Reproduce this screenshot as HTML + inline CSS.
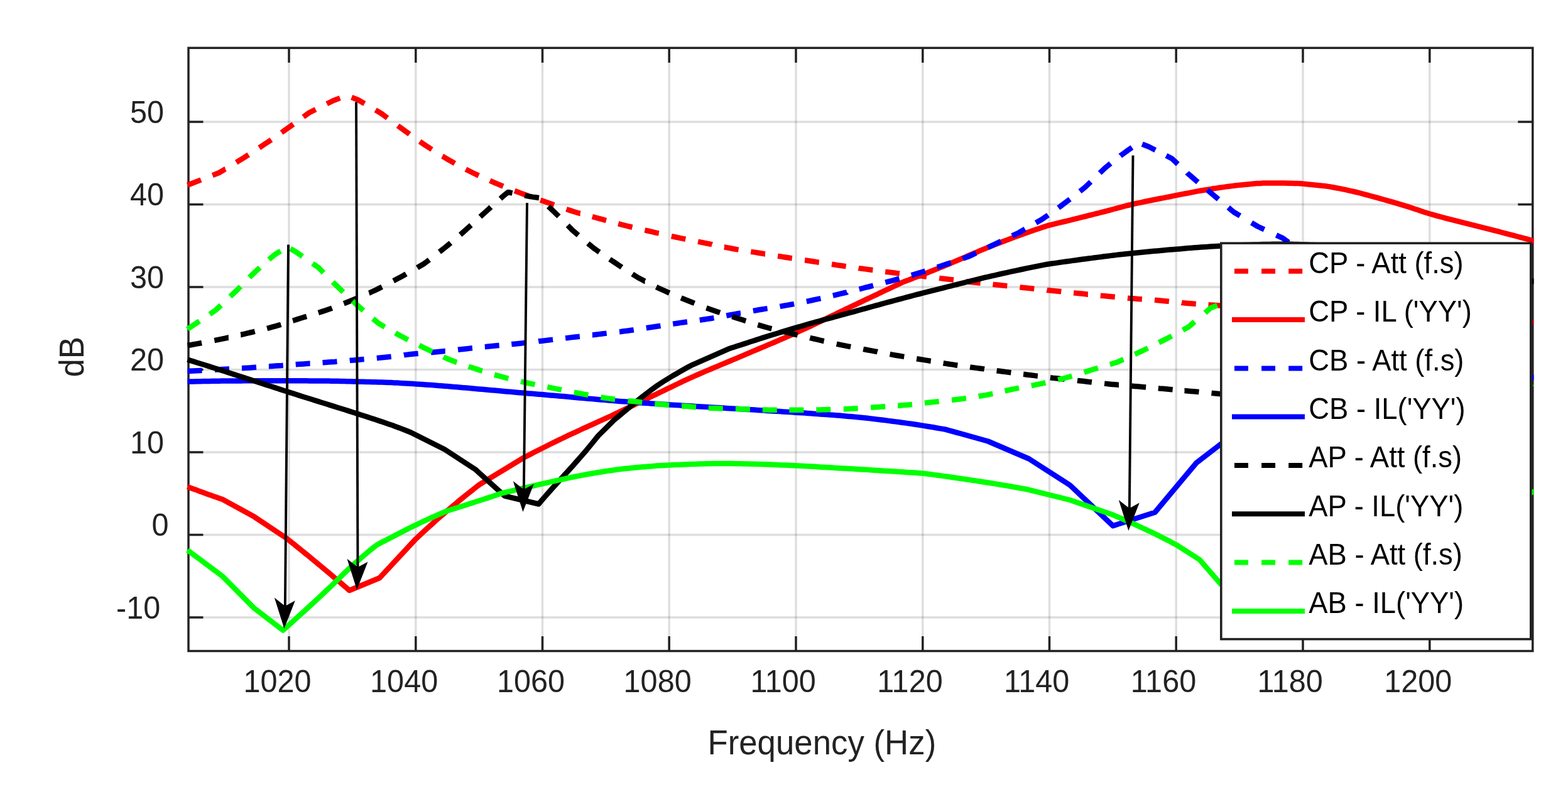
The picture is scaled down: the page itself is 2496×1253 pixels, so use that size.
<!DOCTYPE html>
<html lang="en"><head><meta charset="utf-8"><title>Attenuation and insertion loss versus frequency</title>
<style>html,body{margin:0;padding:0;background:#fff;}body{width:2496px;height:1253px;overflow:hidden;}svg{display:block;}text{font-family:"Liberation Sans",Arial,Helvetica,sans-serif;}.tk{font-size:48.6px;fill:#222222;}.lb{font-size:52.8px;fill:#222222;}.lg{font-size:45.4px;fill:#000;}.c{fill:none;stroke-width:8.5;stroke-linejoin:round;stroke-linecap:butt;}.g{stroke:#222222;stroke-opacity:0.15;stroke-width:3.4;}.ax{stroke:#222222;stroke-width:3.5;fill:none;}</style></head><body>
<svg xmlns="http://www.w3.org/2000/svg" width="2496" height="1253" viewBox="0 0 2496 1253">
<rect width="2496" height="1253" fill="#fff"/>
<defs><clipPath id="cp"><rect x="296" y="76.3" width="2145.5" height="960.2"/></clipPath></defs>
<g class="g">
<line x1="460" y1="76.3" x2="460" y2="1036.5"/>
<line x1="661.8" y1="76.3" x2="661.8" y2="1036.5"/>
<line x1="863.5" y1="76.3" x2="863.5" y2="1036.5"/>
<line x1="1065.2" y1="76.3" x2="1065.2" y2="1036.5"/>
<line x1="1267" y1="76.3" x2="1267" y2="1036.5"/>
<line x1="1468.8" y1="76.3" x2="1468.8" y2="1036.5"/>
<line x1="1670.5" y1="76.3" x2="1670.5" y2="1036.5"/>
<line x1="1872.2" y1="76.3" x2="1872.2" y2="1036.5"/>
<line x1="2074" y1="76.3" x2="2074" y2="1036.5"/>
<line x1="2275.8" y1="76.3" x2="2275.8" y2="1036.5"/>
<line x1="300" y1="194" x2="2439.8" y2="194"/>
<line x1="300" y1="325.5" x2="2439.8" y2="325.5"/>
<line x1="300" y1="457" x2="2439.8" y2="457"/>
<line x1="300" y1="588.5" x2="2439.8" y2="588.5"/>
<line x1="300" y1="720" x2="2439.8" y2="720"/>
<line x1="300" y1="851.5" x2="2439.8" y2="851.5"/>
<line x1="300" y1="983" x2="2439.8" y2="983"/>
</g>
<g class="ax">
<rect x="300" y="76.3" width="2139.8" height="960.2"/>
<line x1="460" y1="1036.5" x2="460" y2="1013"/>
<line x1="460" y1="76.3" x2="460" y2="99.8"/>
<line x1="661.8" y1="1036.5" x2="661.8" y2="1013"/>
<line x1="661.8" y1="76.3" x2="661.8" y2="99.8"/>
<line x1="863.5" y1="1036.5" x2="863.5" y2="1013"/>
<line x1="863.5" y1="76.3" x2="863.5" y2="99.8"/>
<line x1="1065.2" y1="1036.5" x2="1065.2" y2="1013"/>
<line x1="1065.2" y1="76.3" x2="1065.2" y2="99.8"/>
<line x1="1267" y1="1036.5" x2="1267" y2="1013"/>
<line x1="1267" y1="76.3" x2="1267" y2="99.8"/>
<line x1="1468.8" y1="1036.5" x2="1468.8" y2="1013"/>
<line x1="1468.8" y1="76.3" x2="1468.8" y2="99.8"/>
<line x1="1670.5" y1="1036.5" x2="1670.5" y2="1013"/>
<line x1="1670.5" y1="76.3" x2="1670.5" y2="99.8"/>
<line x1="1872.2" y1="1036.5" x2="1872.2" y2="1013"/>
<line x1="1872.2" y1="76.3" x2="1872.2" y2="99.8"/>
<line x1="2074" y1="1036.5" x2="2074" y2="1013"/>
<line x1="2074" y1="76.3" x2="2074" y2="99.8"/>
<line x1="2275.8" y1="1036.5" x2="2275.8" y2="1013"/>
<line x1="2275.8" y1="76.3" x2="2275.8" y2="99.8"/>
<line x1="300" y1="194" x2="323.5" y2="194"/>
<line x1="2439.8" y1="194" x2="2416.3" y2="194"/>
<line x1="300" y1="325.5" x2="323.5" y2="325.5"/>
<line x1="2439.8" y1="325.5" x2="2416.3" y2="325.5"/>
<line x1="300" y1="457" x2="323.5" y2="457"/>
<line x1="2439.8" y1="457" x2="2416.3" y2="457"/>
<line x1="300" y1="588.5" x2="323.5" y2="588.5"/>
<line x1="2439.8" y1="588.5" x2="2416.3" y2="588.5"/>
<line x1="300" y1="720" x2="323.5" y2="720"/>
<line x1="2439.8" y1="720" x2="2416.3" y2="720"/>
<line x1="300" y1="851.5" x2="323.5" y2="851.5"/>
<line x1="2439.8" y1="851.5" x2="2416.3" y2="851.5"/>
<line x1="300" y1="983" x2="323.5" y2="983"/>
<line x1="2439.8" y1="983" x2="2416.3" y2="983"/>
</g>
<g clip-path="url(#cp)">
<path class="c" stroke="#ff0000" d="M298.5 294.8 L319.9 286.4 M338.3 279.1 L348.8 275 L353.7 272.1 L358.6 269.2 L358.9 269.1 M376.2 258.6 L378.4 257.2 L383.3 254.2 L388.3 251.1 L393.2 247.9 L395.7 246.3 M412.7 235.3 L413 235.1 L417.9 231.8 L422.8 228.5 L427.8 225.2 L431.8 222.4 M448.1 211.1 L452.5 208 L457.4 204.6 L462.4 201 L466.9 197.8 M482.9 186.2 L487.1 183.1 L492 179.5 L502.5 174.2 M520.3 165.3 L531 160 L541.3 156.1 M559.7 155 L570 159 L580.3 165 M597.7 175.2 L607.5 181 L612.3 184.6 L616.8 187.9 M633.3 200.1 L636.5 202.5 L641.4 206 L646.2 209.5 L651.1 213 L651.9 213.6 M668.2 225.3 L670.4 226.8 L675.3 230.1 L680.1 233.3 L685 236.5 L687.4 238 M704.1 248.6 L704.3 248.7 L709.2 251.6 L714 254.5 L719 257.3 L724 260.1 M741.4 269.4 L743.9 270.7 L748.9 273.2 L753.9 275.7 L758.9 278.1 L762.1 279.6 M779.9 287.7 L783.8 289.4 L788.8 291.6 L793.8 293.7 L798.8 295.7 L801 296.6 M819.2 303.8 L823.7 305.5 L828.7 307.4 L833.7 309.2 L838.7 311 L840.8 311.8 M860.3 318.6 L863.7 319.8 L868.6 321.5 L873.6 323.2 L878.6 325 L882 326.2 M901.6 333.1 L903.6 333.8 L908.6 335.4 L913.5 337 L918.5 338.5 L923.5 339.9 L923.6 339.9 M942.8 345 L943.5 345.2 L948.5 346.5 L953.4 347.9 L958.4 349.2 L963.4 350.6 L965 351 M984.2 356.2 L988.4 357.3 L993.4 358.6 L998.3 359.8 L1003.3 361 L1006.5 361.8 M1026.4 366.4 L1028.3 366.8 L1033.3 368 L1038.3 369.1 L1043.2 370.3 L1048.2 371.4 L1048.8 371.5 M1068.8 376.1 L1073.2 377 L1078.2 378.1 L1083.1 379.2 L1088.1 380.2 L1091.3 380.8 M1111.1 384.7 L1113.1 385.1 L1118.1 386.1 L1123.1 387.1 L1128 388.1 L1133 389.1 L1133.6 389.3 M1152.9 393.4 L1153 393.4 L1158 394.4 L1163 395.3 L1168 396.2 L1172.9 397.1 L1175.6 397.5 M1195.3 400.7 L1197.9 401.1 L1202.9 401.9 L1207.9 402.7 L1212.9 403.5 L1217.8 404.4 L1218 404.4 M1238.1 407.7 L1242.8 408.4 L1247.8 409.2 L1252.8 410 L1257.7 410.8 L1260.8 411.2 M1281.1 414.3 L1282.7 414.5 L1287.7 415.3 L1292.7 416 L1297.7 416.8 L1302.6 417.6 L1303.8 417.7 M1324 420.8 L1327.6 421.3 L1332.6 422.1 L1337.6 422.8 L1342.6 423.5 L1346.7 424.1 M1366.6 426.9 L1367.5 427.1 L1372.5 427.8 L1377.5 428.4 L1382.5 429.1 L1387.4 429.8 L1389.4 430 M1409.2 432.6 L1412.4 433 L1417.4 433.6 L1422.4 434.2 L1427.4 434.9 L1432 435.4 M1452.1 437.9 L1452.3 437.9 L1457.3 438.5 L1462.3 439.1 L1467.3 439.6 L1472.3 440.2 L1475 440.5 M1495.2 442.8 L1497.2 443.1 L1502.2 443.7 L1507.2 444.3 L1512.2 444.9 L1517.1 445.5 L1518 445.6 M1537.8 448.1 L1542.1 448.7 L1547.1 449.2 L1552.1 449.8 L1557.1 450.4 L1560.7 450.8 M1580.5 452.8 L1582 453 L1587 453.5 L1592 454 L1597 454.6 L1602 455.1 L1603.3 455.2 M1623.4 457.4 L1626.9 457.8 L1631.9 458.3 L1636.9 458.8 L1641.9 459.3 L1646.3 459.8 M1666.4 461.8 L1666.8 461.9 L1671.8 462.4 L1676.8 462.9 L1681.8 463.4 L1686.8 463.9 L1689.3 464.2 M1709.1 466.3 L1711.7 466.6 L1716.7 467.1 L1721.7 467.6 L1726.7 468.1 L1731.7 468.7 L1731.9 468.7 M1751.8 470.7 L1756.6 471.1 L1761.6 471.6 L1766.6 472.1 L1771.6 472.5 L1774.8 472.8 M1795 474.5 L1796.5 474.7 L1801.5 475.1 L1806.5 475.5 L1811.5 475.9 L1816.5 476.3 L1817.9 476.4 M1838 477.8 L1841.4 478.1 L1846.4 478.5 L1851.4 478.9 L1856.4 479.4 L1860.9 479.9 M1880.9 481.9 L1881.3 482 L1886.3 482.4 L1891.3 482.9 L1896.3 483.3 L1901.3 483.7 L1903.8 483.9 M1923.5 485.2 L1926.2 485.4 L1931.2 485.7 L1936.2 486.1 L1941.2 486.4 L1946.2 486.8 L1946.5 486.8 M1966.5 488.2 L1971.1 488.5 L1976.1 488.9 L1981.1 489.2 L1986.1 489.5 L1989.5 489.8 M2009.5 491.2 L2011 491.3 L2016 491.6 L2021 492 L2026 492.3 L2031 492.6 L2032.5 492.7 M2052.5 494.1 L2055.9 494.3 L2060.9 494.6 L2065.9 494.9 L2070.9 495.3 L2075.5 495.5 M2095.5 496.7 L2095.8 496.8 L2100.8 497 L2105.8 497.3 L2110.8 497.6 L2115.8 497.9 L2118.5 498 M2138.6 499.1 L2140.7 499.3 L2145.7 499.5 L2150.7 499.8 L2155.7 500.1 L2160.7 500.3 L2161.5 500.4 M2181.6 501.4 L2185.6 501.6 L2190.6 501.9 L2195.6 502.1 L2200.6 502.4 L2204.6 502.6 M2224.7 503.5 L2225.5 503.6 L2230.5 503.8 L2235.5 504.1 L2240.5 504.3 L2245.5 504.5 L2247.6 504.6 M2267.7 505.6 L2270.4 505.7 L2275.4 505.9 L2280.4 506.1 L2285.4 506.4 L2290.4 506.6 L2290.7 506.6 M2310.8 507.5 L2315.3 507.7 L2320.3 507.9 L2325.3 508.1 L2330.3 508.3 L2333.7 508.5 M2353.8 509.3 L2355.2 509.4 L2360.2 509.6 L2365.2 509.8 L2370.2 510 L2375.2 510.2 L2376.8 510.3 M2396.9 511.1 L2400.1 511.2 L2405.1 511.4 L2410.1 511.6 L2415.1 511.8 L2419.9 511.9 M2440 512.7 L2440 512.7 L2445 512.8 L2450 513"/>
<polyline class="c" stroke="#ff0000" points="298.5,774.9 303.1,776.7 307.8,778.4 312.4,780.1 317,781.9 321.7,783.6 326.3,785.2 330.9,786.9 335.6,788.6 340.2,790.2 344.8,791.8 349.5,793.4 354.1,795 404.5,822.6 455,856.2 459.8,860 464.6,863.9 469.5,867.7 474.3,871.6 479.1,875.5 483.9,879.4 488.8,883.3 493.6,887.3 498.4,891.2 503.2,895.2 508,899.2 512.9,903.2 517.7,907.2 522.5,911.3 527.3,915.3 532.1,919.4 537,923.5 541.8,927.6 546.6,931.7 551.4,935.8 556.2,940 604,920.3 661.5,858.5 666.4,853.9 671.3,849.4 676.1,844.9 681,840.4 685.9,836 690.8,831.6 695.7,827.2 700.5,822.9 705.4,818.7 710.3,814.5 715.2,810.4 720.1,806.3 725,802.2 729.8,798.1 734.7,794.1 739.6,790.2 744.5,786.2 749.4,782.4 754.2,778.5 759.1,774.7 764,771 834,728.5 839,725.9 844,723.4 848.9,720.8 853.9,718.3 858.9,715.7 863.9,713.2 868.9,710.7 873.8,708.3 878.8,705.8 883.8,703.4 888.8,700.9 893.8,698.5 898.8,696.1 903.7,693.7 908.7,691.4 913.7,689.1 918.7,686.8 923.7,684.5 928.6,682.2 933.6,680 938.6,677.7 943.6,675.5 948.6,673.2 953.5,670.9 958.5,668.7 963.5,666.4 968.5,664.1 973.5,661.8 978.4,659.4 983.4,657 988.4,654.7 993.4,652.3 998.4,649.9 1003.4,647.5 1008.3,645.1 1013.3,642.7 1018.3,640.3 1023.3,637.9 1028.3,635.5 1033.2,633.1 1038.2,630.7 1043.2,628.3 1048.2,625.9 1053.2,623.5 1058.1,621.1 1063.1,618.7 1068.1,616.3 1073.1,613.9 1078.1,611.5 1083,609.1 1088,606.7 1093,604.4 1098,602.1 1103,599.9 1108,597.7 1112.9,595.5 1117.9,593.3 1122.9,591.2 1127.9,589.1 1132.9,587 1137.8,584.9 1142.8,582.8 1147.8,580.7 1152.8,578.6 1157.8,576.5 1162.7,574.5 1167.7,572.4 1172.7,570.3 1177.7,568.2 1182.7,566.1 1187.7,563.9 1192.6,561.8 1197.6,559.7 1202.6,557.6 1207.6,555.5 1212.6,553.4 1217.5,551.3 1222.5,549.2 1227.5,547.1 1232.5,545 1237.5,542.9 1242.4,540.7 1247.4,538.6 1252.4,536.4 1257.4,534.2 1262.4,532 1267.3,529.8 1272.3,527.5 1277.3,525.2 1282.3,522.9 1287.3,520.6 1292.3,518.3 1297.2,515.9 1302.2,513.5 1307.2,511.1 1312.2,508.7 1317.2,506.3 1322.1,503.9 1327.1,501.5 1332.1,499.1 1337.1,496.7 1342.1,494.3 1347,491.9 1352,489.5 1357,487.2 1362,484.8 1367,482.4 1371.9,480.1 1376.9,477.7 1381.9,475.3 1386.9,473 1391.9,470.6 1396.9,468.3 1401.8,465.9 1406.8,463.5 1411.8,461.2 1416.8,458.8 1421.8,456.5 1426.7,454.1 1431.7,451.8 1436.7,449.4 1441.6,447.5 1446.6,445.7 1451.5,443.8 1456.4,441.9 1461.3,440 1466.3,438.1 1471.2,436.2 1476.1,434.2 1481.1,432.3 1486,430.3 1490.9,428.4 1495.9,426.4 1500.8,424.4 1505.7,422.4 1510.6,420.3 1515.6,418.2 1520.5,416.1 1525.4,414 1530.4,411.9 1535.3,409.8 1540.2,407.6 1545.2,405.5 1550.1,403.4 1555,401.3 1559.9,399.2 1564.9,397.1 1569.8,395.1 1574.7,393.1 1579.7,391.1 1584.6,389.1 1589.5,387.2 1594.5,385.3 1599.4,383.5 1604.3,381.6 1609.2,379.8 1614.2,377.9 1619.1,376.1 1624,374.3 1629,372.5 1633.9,370.8 1638.8,369 1643.8,367.3 1648.7,365.6 1653.6,363.9 1658.5,362.2 1663.5,360.6 1668.4,359 1673.4,357.8 1678.3,356.6 1683.3,355.4 1688.2,354.2 1693.2,353 1698.2,351.8 1703.1,350.6 1708.1,349.4 1713.1,348.1 1718,346.9 1723,345.7 1727.9,344.5 1732.9,343.2 1737.9,342 1742.8,340.7 1747.8,339.5 1752.7,338.2 1757.7,337 1762.7,335.7 1767.6,334.3 1772.6,333 1777.6,331.6 1782.5,330.3 1787.5,329 1792.4,327.7 1797.4,326.5 1802.4,325.3 1807.3,324.2 1812.3,323.1 1817.3,322.1 1822.2,321 1827.2,320 1832.1,319 1837.1,318 1842.1,317 1847,316 1852,315.1 1856.9,314.1 1861.9,313.2 1866.9,312.2 1871.8,311.2 1876.8,310.2 1881.8,309.2 1886.7,308.3 1891.7,307.3 1896.6,306.3 1901.6,305.3 1906.6,304.4 1911.5,303.5 1916.5,302.7 1921.4,301.9 1926.4,301.1 1931.4,300.3 1936.3,299.6 1941.3,298.8 1946.3,298.1 1951.2,297.4 1956.2,296.8 1961.1,296.1 1966.1,295.5 1971.1,294.9 1976,294.4 1981,293.9 1986,293.4 1990.9,292.9 1995.9,292.5 2000.8,292.1 2005.8,291.9 2010.8,291.6 2015.7,291.5 2020.7,291.4 2025.6,291.4 2030.6,291.4 2035.6,291.5 2040.5,291.5 2045.5,291.6 2050.5,291.7 2055.4,291.8 2060.4,292 2065.3,292.1 2070.3,292.3 2112.4,296.6 2117.4,297.4 2122.3,298.3 2127.3,299.2 2132.3,300.1 2137.2,301.2 2142.2,302.2 2147.2,303.3 2152.1,304.4 2157.1,305.5 2162,306.7 2167,308 2172,309.3 2176.9,310.6 2181.9,312 2186.9,313.3 2191.8,314.7 2196.8,316.1 2201.8,317.5 2206.7,318.9 2211.7,320.3 2216.7,321.7 2221.6,323.1 2226.6,324.6 2231.6,326.1 2236.5,327.6 2241.5,329.1 2246.4,330.7 2251.4,332.4 2256.4,334 2261.3,335.7 2266.3,337.4 2271.3,339 2276.2,340.5 2281.2,341.9 2286.2,343.3 2291.1,344.7 2296.1,346 2301.1,347.3 2306,348.6 2311,349.9 2316,351.2 2320.9,352.4 2325.9,353.7 2330.8,354.9 2335.8,356.2 2340.8,357.4 2345.7,358.6 2350.7,359.9 2355.7,361.1 2360.6,362.3 2365.6,363.6 2370.6,364.9 2375.5,366.1 2380.5,367.4 2385.5,368.7 2390.4,370 2395.4,371.3 2400.4,372.6 2405.3,373.9 2410.3,375.2 2415.2,376.5 2420.2,377.8 2425.2,379.1 2430.1,380.4 2435.1,381.8 2440.1,383.1 2445,384.4 2450,385.7"/>
<path class="c" stroke="#0000ff" d="M298.5 591.1 L303.5 590.8 L308.5 590.5 L313.5 590.3 L318.5 590 L321.5 589.8 M341.9 588.7 L343.5 588.6 L348.5 588.3 L353.5 588 L358.5 587.7 L363.5 587.4 L364.9 587.4 M385 586.2 L388.5 586 L393.5 585.7 L398.5 585.4 L403.5 585 L408 584.7 M427.9 583.3 L428.4 583.3 L433.4 582.9 L438.4 582.6 L443.4 582.2 L448.4 581.9 L450.8 581.7 M470.7 580.3 L473.4 580.1 L478.4 579.8 L483.4 579.4 L488.4 579.1 L493.4 578.7 L493.6 578.7 M513.5 577.3 L518.4 577 L523.4 576.6 L528.4 576.2 L533.4 575.9 L536.5 575.6 M556.7 574 L558.4 573.8 L563.4 573.4 L568.4 573 L573.4 572.5 L578.4 572.1 L579.6 572 M599.8 570.2 L603.4 569.8 L608.4 569.3 L613.4 568.8 L618.4 568.2 L622.7 567.7 M642.9 565.3 L643.4 565.2 L648.4 564.6 L653.4 564.1 L658.4 563.6 L663.4 563.1 L665.7 562.9 M685.9 561.1 L688.3 560.9 L693.3 560.4 L698.3 559.9 L703.3 559.4 L708.3 558.9 L708.8 558.9 M729 556.7 L733.3 556.2 L738.3 555.7 L743.3 555.2 L748.3 554.6 L751.9 554.3 M771.8 552.2 L773.3 552.1 L778.3 551.6 L783.3 551.1 L788.3 550.6 L793.3 550.1 L794.7 550 M814.3 548.1 L818.3 547.7 L823.3 547.2 L828.3 546.7 L833.3 546.1 L837.2 545.7 M857.2 543.4 L858.3 543.2 L863.3 542.7 L868.3 542.1 L873.3 541.5 L878.3 540.9 L880.1 540.7 M900.1 538.3 L903.3 538 L908.3 537.4 L913.3 536.8 L918.3 536.2 L922.9 535.7 M942.9 533.3 L943.2 533.3 L948.2 532.7 L953.2 532.1 L958.2 531.5 L963.2 530.9 L965.7 530.6 M986 528.2 L988.2 528 L993.2 527.3 L998.2 526.7 L1003.2 526 L1008.2 525.3 L1008.8 525.2 M1028.8 522.2 L1033.2 521.5 L1038.2 520.8 L1043.2 520 L1048.2 519.3 L1051.5 518.8 M1071.2 515.7 L1073.2 515.4 L1078.2 514.7 L1083.2 513.9 L1088.2 513.2 L1093.2 512.5 L1094 512.4 M1113.8 509.7 L1118.2 509 L1123.2 508.3 L1128.2 507.5 L1133.2 506.7 L1136.5 506.1 M1156.3 502.6 L1158.2 502.2 L1163.2 501.3 L1168.2 500.4 L1173.1 499.5 L1178.1 498.6 L1179 498.5 M1198.9 494.9 L1203.1 494.2 L1208.1 493.3 L1213.1 492.5 L1218.1 491.6 L1221.6 491.1 M1241.5 487.9 L1243.1 487.6 L1248.1 486.8 L1253.1 485.9 L1258.1 485 L1263.1 484.1 L1264.1 483.9 M1283.9 480 L1288.1 479.1 L1293.1 478 L1298.1 476.9 L1303.1 475.8 L1306.4 475.1 M1325.9 470.6 L1328.1 470.1 L1333.1 468.9 L1338.1 467.7 L1343.1 466.5 L1348.1 465.3 L1348.2 465.2 M1367.7 460.4 L1368.1 460.3 L1373.1 459 L1378.1 457.7 L1383.1 456.5 L1388.1 455.2 L1390 454.7 M1409.4 449.7 L1413.1 448.7 L1418.1 447.4 L1423 446.1 L1428 444.7 L1431.6 443.7 M1450.8 438.2 L1453 437.6 L1458 436.1 L1463 434.6 L1468 433.1 L1472.8 431.6 M1491.8 425.4 L1493 425.1 L1498 423.4 L1503 421.7 L1508 420.1 L1513 418.4 L1513.7 418.2 M1532.6 411.7 L1533 411.5 L1538 409.8 L1543 408 L1547.9 405.7 L1552.8 403.3 L1553.8 402.9 M1572.3 394.1 L1572.5 394 L1577.5 391.6 L1582.4 389.3 L1587.3 387 L1592.2 384.6 L1593.1 384.2 M1611.4 375.5 L1611.9 375.2 L1616.8 372.9 L1621.8 370.5 L1631.7 364.7 M1649 354.7 L1659 349 L1663.9 345.6 L1668.5 342.5 M1684.8 330.8 L1688.6 328 L1693.5 324.4 L1698.4 320.7 L1703.2 317.1 M1719 304.7 L1723.1 301.5 L1728 297.5 L1736.3 289.5 M1750.7 275.5 L1759 267.5 L1763.9 263.5 L1767.9 260.2 M1783.4 248.1 L1783.5 248 L1788.5 244.3 L1793.4 240.7 L1798.3 237.2 L1802 234.7 M1818.2 229.5 L1829 233.8 L1839.2 239 M1856.4 247.8 L1865.5 252.5 L1870.5 257.2 L1874.8 261.3 M1889.6 274.9 L1890.2 275.6 L1895.2 280 L1900.2 284.3 L1905.1 288.6 L1906.9 290.1 M1921.9 302.5 L1924.9 304.9 L1929.8 309 L1934.8 313.2 L1939.6 317.2 M1955.3 330.3 L1959.5 333.9 L1964.5 338 L1974 343.7 M1992.2 354.6 L2002 360.5 L2012.5 365.4 M2031.6 374.4 L2042 379.2 L2051.4 385.9 M2067.9 397.4 L2086.7 410.6 M2103.3 422 L2123 433.8 M2140.2 444.1 L2160 456 M2177.2 466.3 L2196.9 478.1 M2214.8 487.4 L2235.3 497.7 M2253.3 506.7 L2273.9 516.9 M2291.9 525.9 L2300 530 L2313.4 533.7 M2332.7 539.2 L2354.9 545.4 M2374.2 550.8 L2396.4 557 M2415.7 562.4 L2437.9 568.6"/>
<polyline class="c" stroke="#0000ff" points="298.5,607.5 303.5,607.5 308.5,607.4 313.5,607.3 318.5,607.2 323.4,607.1 328.4,607 333.4,606.9 338.4,606.8 343.4,606.7 348.4,606.7 353.4,606.6 358.4,606.6 363.3,606.5 368.3,606.5 373.3,606.4 378.3,606.4 383.3,606.4 388.3,606.3 393.3,606.3 398.3,606.3 403.2,606.3 408.2,606.2 413.2,606.2 418.2,606.2 423.2,606.2 428.2,606.2 433.2,606.2 438.2,606.2 443.1,606.2 448.1,606.2 453.1,606.2 458.1,606.2 463.1,606.2 468.1,606.2 473.1,606.2 478.1,606.3 483,606.3 488,606.3 493,606.4 498,606.4 503,606.4 508,606.5 513,606.5 518,606.6 522.9,606.6 527.9,606.7 532.9,606.7 537.9,606.8 542.9,607 547.9,607.1 552.9,607.2 557.9,607.3 562.8,607.5 567.8,607.6 572.8,607.7 577.8,607.8 582.8,608 587.8,608.1 592.8,608.2 597.8,608.3 602.7,608.5 607.7,608.6 612.7,608.8 617.7,608.9 622.7,609.1 627.7,609.4 632.7,609.6 637.7,609.9 642.6,610.2 647.6,610.5 652.6,610.8 657.6,611.1 662.6,611.4 667.6,611.7 672.6,612.1 677.6,612.4 682.5,612.8 687.5,613.1 692.5,613.5 697.5,613.9 702.5,614.3 707.5,614.7 712.5,615.1 717.5,615.5 722.4,615.9 727.4,616.3 732.4,616.8 737.4,617.2 742.4,617.6 747.4,618.1 752.4,618.5 757.4,618.9 762.3,619.4 767.3,619.8 772.3,620.3 777.3,620.7 782.3,621.2 787.3,621.6 792.3,622.1 797.3,622.5 802.2,623 807.2,623.4 812.2,623.8 817.2,624.3 822.2,624.7 827.2,625.2 832.2,625.6 837.2,626 842.1,626.4 847.1,626.8 852.1,627.3 857.1,627.7 862.1,628.1 867.1,628.5 872.1,629 877.1,629.4 882,629.8 887,630.3 892,630.7 897,631.1 902,631.6 907,632 912,632.5 917,632.9 922,633.4 926.9,633.8 931.9,634.2 936.9,634.7 941.9,635.1 946.9,635.6 951.9,636 956.9,636.4 961.9,636.8 966.8,637.3 971.8,637.7 976.8,638.1 981.8,638.5 986.8,638.9 991.8,639.3 996.8,639.6 1001.8,640 1006.7,640.4 1011.7,640.7 1016.7,641.1 1021.7,641.4 1026.7,641.8 1031.7,642.1 1036.7,642.5 1041.7,642.8 1046.6,643.1 1051.6,643.4 1056.6,643.8 1061.6,644.1 1066.6,644.4 1071.6,644.7 1076.6,645 1081.6,645.3 1086.5,645.7 1091.5,646 1096.5,646.3 1101.5,646.6 1106.5,646.9 1111.5,647.2 1116.5,647.5 1121.5,647.8 1126.4,648.1 1131.4,648.4 1136.4,648.7 1141.4,649 1146.4,649.3 1151.4,649.6 1156.4,649.9 1161.4,650.2 1166.3,650.5 1171.3,650.8 1176.3,651.1 1181.3,651.4 1186.3,651.7 1191.3,652 1196.3,652.3 1201.3,652.6 1206.2,652.9 1211.2,653.3 1216.2,653.6 1221.2,653.9 1226.2,654.2 1231.2,654.5 1236.2,654.8 1241.2,655.1 1246.1,655.4 1251.1,655.7 1256.1,656 1261.1,656.3 1266.1,656.7 1271.1,657 1276.1,657.3 1281.1,657.6 1286,658 1291,658.3 1296,658.7 1301,659 1306,659.4 1311,659.7 1316,660.1 1321,660.5 1325.9,660.8 1330.9,661.2 1335.9,661.6 1340.9,662 1345.9,662.4 1350.9,662.9 1355.9,663.3 1360.9,663.8 1365.8,664.3 1370.8,664.8 1375.8,665.3 1380.8,665.8 1385.8,666.4 1390.8,667 1395.8,667.6 1400.8,668.2 1405.7,668.8 1410.7,669.4 1415.7,670.1 1420.7,670.7 1425.7,671.4 1430.7,672 1435.7,672.7 1440.7,673.4 1445.6,674.1 1450.6,674.8 1455.6,675.5 1460.6,676.3 1465.6,677.1 1470.6,677.9 1475.6,678.7 1480.6,679.5 1485.5,680.3 1490.5,681.2 1495.5,682.1 1500.5,682.9 1505.5,683.8 1572.6,702.5 1638,730.5 1703.3,772.5 1771.6,837.2 1838.5,815.7 1904.2,737.2 1942,708 2000,670 2100,630 2450,600"/>
<path class="c" stroke="#000000" d="M298.5 550 L303.5 549.2 L308.5 548.3 L313.5 547.4 L318.5 546.5 L321.1 546 M341.3 542.1 L343.4 541.7 L348.4 540.7 L353.4 539.7 L358.4 538.6 L363.4 537.5 L363.8 537.5 M383.3 533 L383.4 533 L388.4 531.8 L393.3 530.7 L398.3 529.5 L403.3 528.3 L405.7 527.7 M425.1 522.9 L428.3 522.1 L433.3 520.7 L438.3 519.3 L443.3 517.9 L447.3 516.7 M466.1 510.6 L468.2 510 L473.2 508.4 L478.2 506.8 L483.2 505.2 L488.1 503.8 M506.8 497.9 L508.1 497.5 L513.1 495.9 L518.1 494.2 L523.1 492.5 L528.1 490.7 L528.6 490.5 M547.3 483.3 L548.1 483 L553.1 481 L558.1 479 L563.1 477 L568 474.9 L568.6 474.7 M587.3 466.5 L588 466.3 L593 464 L598 461.8 L602.8 459.4 L607.5 457 L608.1 456.7 M626.3 447.2 L626.5 447.1 L631.2 444.6 L636 442 L640.8 439.4 L645.5 436.8 L646.5 436.2 M664.2 426.2 L664.5 426 L669.2 423.3 L674 420.5 L679 416.9 L683.3 413.6 M699.5 401.2 L703.9 397.7 L708.9 393.7 L713.9 389.6 L717.4 386.7 M732.7 373.7 L733.9 372.7 L738.9 368.3 L743.8 363.9 L748.8 359.4 L749.9 358.5 M764.4 345.1 L768.8 341.1 L773.8 336.6 L778.8 332.1 L781.4 329.6 M796.5 316.3 L798.7 314.3 L803.7 310.1 L808.7 306 L813.6 307 L815.6 307.4 M835.3 311.3 L838.3 311.9 L843.2 312.7 L848.1 313.6 L853.1 314.3 L858 315 M872.9 328.6 L877.5 332.9 L882.3 337.5 L887.2 342.3 L889.5 344.6 M903.7 358.8 L906.6 361.7 L911.5 366.8 L920.6 374.4 M935.9 387.4 L945 395 L949.8 398.4 L954.1 401.4 M970.6 412.7 L973.6 414.7 L978.4 417.9 L983.1 421.1 L987.9 424.2 L989.8 425.5 M1006.7 436.3 L1007 436.5 L1011.7 439.5 L1016.5 442.5 L1021.5 445.1 L1026.5 447.8 L1026.6 447.8 M1044.7 456.9 L1046.5 457.8 L1051.5 460.1 L1056.5 462.4 L1061.5 464.7 L1065.6 466.5 M1084.2 474.4 L1086.4 475.3 L1091.4 477.3 L1096.4 479.3 L1101.4 481.3 L1105.5 482.9 M1124.4 490.2 L1126.4 490.9 L1131.4 492.7 L1136.4 494.5 L1141.4 496.2 L1146.1 497.8 M1165.4 504 L1166.3 504.3 L1171.3 505.9 L1176.3 507.4 L1181.3 509.1 L1186.3 510.7 L1187.3 511 M1206.3 517.1 L1206.3 517.1 L1211.3 518.6 L1216.3 520.1 L1221.3 521.5 L1226.3 522.8 L1228.4 523.3 M1247.3 528 L1251.3 528.9 L1256.2 530.1 L1261.2 531.3 L1266.2 532.5 L1269.7 533.3 M1289.3 537.9 L1291.2 538.4 L1296.2 539.5 L1301.2 540.7 L1306.2 541.8 L1311.2 543 L1311.7 543.1 M1331.7 547.6 L1336.2 548.6 L1341.2 549.6 L1346.2 550.6 L1351.1 551.6 L1354.2 552.2 M1374.2 555.9 L1376.1 556.3 L1381.1 557.2 L1386.1 558.1 L1391.1 559.1 L1396.1 560 L1396.8 560.2 M1416.6 563.9 L1421.1 564.8 L1426.1 565.7 L1431.1 566.5 L1436.1 567.4 L1439.3 567.9 M1459.1 571.2 L1461 571.5 L1466 572.3 L1471 573.1 L1476 573.9 L1481 574.8 L1481.8 574.9 M1501.6 578.2 L1506 578.9 L1511 579.7 L1516 580.4 L1521 581.2 L1524.3 581.7 M1544.1 584.4 L1545.9 584.7 L1550.9 585.4 L1555.9 586.1 L1560.9 586.7 L1565.9 587.4 L1566.9 587.6 M1586.6 590.2 L1590.9 590.8 L1595.9 591.5 L1600.9 592.1 L1605.9 592.8 L1609.4 593.2 M1629.1 595.8 L1630.9 596 L1635.9 596.7 L1640.8 597.3 L1645.8 597.9 L1650.8 598.6 L1651.9 598.7 M1671.9 601.2 L1675.8 601.7 L1680.8 602.2 L1685.8 602.8 L1690.8 603.4 L1694.7 603.8 M1715 606 L1715.8 606.1 L1720.8 606.6 L1725.8 607.1 L1730.8 607.7 L1735.7 608.2 L1737.9 608.5 M1758.1 610.6 L1760.7 610.9 L1765.7 611.4 L1770.7 611.9 L1775.7 612.3 L1780.7 612.8 L1781 612.8 M1801.2 614.5 L1805.7 614.9 L1810.7 615.3 L1815.7 615.7 L1820.7 616.2 L1824.1 616.5 M1843.8 618.2 L1845.6 618.4 L1850.6 618.8 L1855.6 619.3 L1860.6 619.7 L1865.6 620.2 L1866.7 620.3 M1885.5 622 L1885.6 622 L1890.6 622.4 L1895.6 622.9 L1900.6 623.3 L1905.6 623.8 L1908.5 624.1 M1928.5 625.9 L1930.5 626.1 L1935.5 626.5 L1940.5 626.9 L1945.5 627.3 L1950.5 627.6 L1951.4 627.7 M1971.4 629.2 L1975.5 629.5 L1980.5 629.9 L1985.5 630.3 L1990.5 630.6 L1994.4 630.9 M2014.4 632.4 L2015.5 632.5 L2020.4 632.9 L2025.4 633.2 L2030.4 633.6 L2035.4 634 L2037.4 634.1 M2057.4 635.6 L2060.4 635.8 L2065.4 636.1 L2070.4 636.5 L2075.4 636.9 L2080.3 637.2 M2100.4 638.6 L2105.4 639 L2110.4 639.3 L2115.4 639.7 L2120.3 640 L2123.3 640.3 M2143.4 641.6 L2145.3 641.8 L2150.3 642.1 L2155.3 642.5 L2160.3 642.8 L2165.3 643.1 L2166.3 643.2 M2186.4 644.6 L2190.3 644.8 L2195.3 645.1 L2200.3 645.5 L2205.3 645.8 L2209.3 646.1 M2229.4 647.4 L2230.2 647.4 L2235.2 647.7 L2240.2 648.1 L2245.2 648.4 L2250.2 648.7 L2252.4 648.8 M2272.4 650.1 L2275.2 650.3 L2280.2 650.6 L2285.2 650.9 L2290.2 651.2 L2295.2 651.5 L2295.4 651.5 M2315.4 652.7 L2320.1 653 L2325.1 653.3 L2330.1 653.5 L2335.1 653.8 L2338.4 654 M2358.5 655.2 L2360.1 655.3 L2365.1 655.5 L2370.1 655.8 L2375.1 656.1 L2380.1 656.4 L2381.4 656.4 M2401.5 657.5 L2405 657.7 L2410 658 L2415 658.2 L2420 658.5 L2424.5 658.7 M2444.5 659.7 L2445 659.8 L2450 660"/>
<polyline class="c" stroke="#000000" points="298.5,572.5 303.4,574.1 308.4,575.6 313.3,577.2 318.2,578.7 323.2,580.3 328.1,581.8 333.1,583.4 338,585 342.9,586.5 347.9,588.1 352.8,589.7 357.8,591.3 362.7,592.9 367.6,594.5 372.6,596.1 377.5,597.7 382.4,599.3 387.4,600.9 392.3,602.5 397.2,604.1 402.2,605.7 407.1,607.3 412.1,608.9 417,610.5 421.9,612.1 426.9,613.7 431.8,615.3 436.8,616.9 441.7,618.5 446.6,620.1 451.6,621.7 456.5,623.3 461.4,624.9 466.4,626.4 471.3,628 476.2,629.6 481.2,631.2 486.1,632.7 491.1,634.3 496,635.8 500.9,637.4 505.9,638.9 510.8,640.5 515.8,642 520.7,643.5 525.6,645.1 530.6,646.6 535.5,648.2 540.4,649.7 545.4,651.3 550.3,652.8 555.2,654.4 560.2,656 565.1,657.5 570.1,659.1 575,660.7 579.9,662.3 584.9,663.9 589.8,665.5 594.8,667.1 599.7,668.8 604.6,670.4 609.6,672.1 614.5,673.7 619.4,675.4 624.4,677.1 629.3,678.9 634.2,680.7 639.2,682.6 644.1,684.5 649.1,686.5 654,688.5 707.8,715.5 756.5,747.2 803.3,789.6 857.5,802.5 862.5,796.6 867.5,790.8 872.5,785.1 877.5,779.4 882.5,773.8 887.5,768.3 892.5,762.9 897.5,757.4 902.5,751.9 907.5,746.3 912.5,740.8 917.5,735.2 922.5,729.5 927.5,723.8 932.5,717.9 937.5,711.9 942.5,705.9 947.5,699.7 952.5,693.5 977.5,668.8 982.4,664.7 987.3,660.7 992.2,656.6 997.1,652.5 1002,648.5 1006.9,644.4 1011.8,640.3 1016.7,636.3 1021.6,632.4 1026.5,628.6 1031.4,624.8 1036.3,621.1 1041.2,617.5 1046.1,614 1051,610.7 1055.9,607.5 1060.8,604.5 1065.7,601.5 1070.6,598.5 1075.5,595.7 1080.4,592.8 1085.3,590 1090.2,587.2 1095.1,584.5 1100,581.9 1159,555.8 1164,554.1 1169,552.5 1174,550.8 1179,549.2 1184,547.6 1189,545.9 1194,544.3 1199,542.7 1203.9,541.1 1208.9,539.5 1213.9,537.9 1218.9,536.4 1223.9,534.8 1228.9,533.2 1233.9,531.7 1238.9,530.2 1243.9,528.6 1248.9,527.1 1253.9,525.6 1258.9,524.1 1263.9,522.6 1268.9,521.2 1273.9,519.7 1278.9,518.3 1283.9,516.8 1288.8,515.4 1293.8,514 1298.8,512.6 1303.8,511.3 1308.8,509.9 1313.8,508.5 1318.8,507.2 1323.8,505.8 1328.8,504.5 1333.8,503.1 1338.8,501.7 1343.8,500.4 1348.8,499 1353.8,497.7 1358.8,496.3 1363.8,494.9 1368.8,493.5 1373.7,492.1 1378.7,490.8 1383.7,489.4 1388.7,488 1393.7,486.6 1398.7,485.3 1403.7,483.9 1408.7,482.5 1413.7,481.2 1418.7,479.8 1423.7,478.5 1428.7,477.1 1433.7,475.8 1438.7,474.5 1443.7,473.2 1448.7,471.8 1453.7,470.5 1458.6,469.2 1463.6,468 1468.6,466.7 1473.6,465.4 1478.6,464.1 1483.6,462.8 1488.6,461.6 1493.6,460.3 1498.6,459.1 1503.6,457.8 1508.6,456.5 1513.6,455.3 1518.6,454 1523.6,452.8 1528.6,451.5 1533.6,450.3 1538.6,449 1543.5,447.8 1548.5,446.5 1553.5,445.3 1558.5,444.1 1563.5,442.9 1568.5,441.7 1573.5,440.6 1578.5,439.4 1583.5,438.3 1588.5,437.1 1593.5,436 1598.5,434.9 1603.5,433.8 1608.5,432.7 1613.5,431.6 1618.5,430.6 1623.5,429.5 1628.4,428.5 1633.4,427.4 1638.4,426.4 1643.4,425.4 1648.4,424.4 1653.4,423.4 1658.4,422.4 1663.4,421.4 1668.4,420.5 1673.4,419.8 1678.3,419.1 1683.3,418.4 1688.2,417.6 1693.2,416.9 1698.2,416.2 1703.1,415.6 1708.1,414.9 1713.1,414.2 1718,413.5 1723,412.8 1727.9,412.2 1732.9,411.5 1737.9,410.9 1742.8,410.2 1747.8,409.6 1752.8,409 1757.7,408.3 1762.7,407.7 1767.6,407.1 1772.6,406.5 1777.6,405.9 1782.5,405.3 1787.5,404.8 1792.4,404.2 1797.4,403.7 1802.4,403.2 1807.3,402.7 1812.3,402.2 1817.3,401.7 1822.2,401.2 1827.2,400.7 1832.1,400.3 1837.1,399.8 1842.1,399.4 1847,398.9 1852,398.5 1856.9,398 1861.9,397.6 1866.9,397.2 1871.8,396.8 1876.8,396.4 1881.8,395.9 1886.7,395.5 1891.7,395.1 1896.6,394.7 1901.6,394.3 1906.6,394 1911.5,393.6 1916.5,393.2 1921.5,392.9 1926.4,392.6 1931.4,392.3 1936.3,392 1941.3,391.7 1946.3,391.5 1951.2,391.3 1956.2,391.1 1961.1,390.9 1966.1,390.7 1971.1,390.4 1976,390.2 1981,390.1 1986,389.9 1990.9,389.7 1995.9,389.5 2000.8,389.4 2005.8,389.2 2010.8,389.1 2015.7,389 2020.7,388.9 2025.6,388.8 2030.6,388.7 2035.6,388.7 2040.5,388.7 2045.5,388.7 2050.5,388.8 2055.4,388.8 2060.4,389 2065.3,389.1 2070.3,389.3 2075.3,389.5 2080.2,389.6 2085.2,389.9 2090.2,390.1 2095.1,390.3 2100.1,390.5 2105,390.8 2110,391 2300,415 2450,450"/>
<path class="c" stroke="#00ff00" d="M298.5 524.2 L300 523 L317.5 511.2 M333.8 500.2 L343 494 L348 489.5 L351.8 486 M366.4 472.2 L368 470.7 L373 465.9 L378 461.1 L382.9 456.1 M397 441.8 L398 440.8 L403 435.9 L408 431.2 L413 426.6 L413.7 425.9 M428.1 413.2 L433 409.1 L438 405 L446.7 399.7 M462.2 395.8 L471 401 L481.5 408.3 M497.6 419.4 L507 426 L511.8 430.9 L515 434.2 M529.8 449 L531 450.2 L535.8 454.9 L540.6 459.5 L545.4 464.1 L546.3 465 M561.4 479.2 L564.6 482.1 L569.4 486.5 L574.2 490.7 L578.5 494.5 M593.7 507.4 L598.2 511.1 L603 515 L607.9 517.9 L612.5 520.6 M629.3 530.2 L632.6 532 L637.5 534.7 L642.5 537.3 L647.4 539.9 L649.6 541 M667.3 549.9 L672.1 552.3 L677 554.6 L682 557 L686.9 559.4 L688 559.9 M705.9 568.2 L706.6 568.6 L711.6 570.8 L716.5 573 L721.5 574.8 L726.5 576.7 L727.2 576.9 M745.9 583.5 L746.4 583.7 L751.4 585.3 L756.4 587 L761.4 588.6 L766.3 590.2 L767.8 590.6 M787.1 596.6 L791.3 597.8 L796.2 599.1 L801.2 600.5 L806.2 601.8 L809.3 602.6 M829 607.3 L831.1 607.8 L836.1 608.9 L841.1 610 L846.1 611.1 L851.1 612.1 L851.5 612.2 M871.3 616.2 L876 617.1 L881 618.1 L885.9 619.1 L890.9 620.1 L893.9 620.7 M913.8 624.7 L915.8 625.1 L920.8 626 L925.8 626.9 L930.8 627.9 L935.8 628.8 L936.4 628.9 M956.4 632.5 L960.7 633.2 L965.7 633.9 L970.7 634.6 L975.6 635.3 L979.1 635.7 M999.4 638 L1000.6 638.2 L1005.5 638.7 L1010.5 639.3 L1015.5 639.8 L1020.5 640.4 L1022.2 640.6 M1042.3 642.9 L1045.4 643.2 L1050.4 643.7 L1055.4 644.1 L1060.4 644.5 L1065.2 644.9 M1085 646.4 L1085.3 646.4 L1090.3 646.8 L1095.3 647.1 L1100.2 647.5 L1105.2 647.9 L1108 648.1 M1127.8 649.5 L1130.1 649.7 L1135.1 649.9 L1140.1 650.1 L1145.1 650.3 L1150.1 650.5 L1150.8 650.5 M1170.9 651.1 L1175 651.2 L1180 651.3 L1185 651.5 L1189.9 651.6 L1193.9 651.8 M1213.8 652.5 L1214.9 652.5 L1219.8 652.6 L1224.8 652.7 L1229.8 652.8 L1234.8 652.8 L1236.8 652.8 M1256.4 652.8 L1259.7 652.8 L1264.7 652.8 L1269.7 652.8 L1274.7 652.8 L1279.4 652.7 M1299.3 652.5 L1299.6 652.5 L1304.6 652.4 L1309.5 652.3 L1314.5 652.2 L1319.5 652.1 L1322.3 652 M1342.8 651.2 L1344.4 651.2 L1349.4 650.9 L1354.4 650.7 L1359.4 650.4 L1364.4 650.2 L1365.7 650.1 M1386.2 648.8 L1389.3 648.6 L1394.3 648.2 L1399.2 647.9 L1404.2 647.6 L1409.2 647.3 M1429.1 645.9 L1429.2 645.9 L1434.1 645.5 L1439.1 645.1 L1444.1 644.7 L1449.1 644.2 L1452 643.9 M1471.9 641.7 L1474 641.4 L1479 640.8 L1484 640.3 L1489 639.8 L1493.9 639.2 L1494.7 639.1 M1515.1 636.9 L1518.9 636.5 L1523.8 635.9 L1528.8 635.2 L1533.8 634.6 L1537.9 634 M1557.7 631 L1558.7 630.8 L1563.7 630 L1568.7 629.1 L1573.7 628.2 L1578.7 627.1 L1580.3 626.8 M1599.5 622.4 L1603.6 621.5 L1608.6 620.4 L1613.5 619.4 L1618.5 618.4 L1622 617.7 M1641.8 614 L1643.4 613.7 L1648.4 612.7 L1653.4 611.7 L1658.4 610.6 L1663.4 609.5 L1664.3 609.3 M1684.2 604.6 L1688.3 603.6 L1693.3 602.3 L1698.3 601 L1703.2 599.6 L1706.4 598.6 M1725.8 592.7 L1728.2 591.9 L1733.1 590.4 L1738.1 588.8 L1743.1 587.3 L1747.8 585.9 M1766.9 580.1 L1768 579.8 L1773 578.3 L1778 576.8 L1783 574.6 L1787.9 572.4 L1788.4 572.2 M1806.5 564 L1807.7 563.5 L1812.7 561.2 L1817.7 558.8 L1822.6 556.5 L1827.3 554.2 M1844.8 545.4 L1847.4 544.1 L1852.3 541.6 L1857.3 539.1 L1862.3 536.5 L1865.3 534.9 M1882.9 525.5 L1887 523.2 L1892 520.5 L1901.6 512.2 M1918.3 498 L1927 490.5 L1937.6 486.1 M1956.2 478.3 L1977.4 469.5 M1995.9 461.7 L2000 460 L2018.5 461.8 M2038.5 463.8 L2061.4 466.1 M2081.4 468.1 L2100 470 L2104 471.6 M2122.6 479.3 L2143.8 488 M2162.4 495.7 L2183.7 504.4 M2202.3 512.1 L2223.5 520.8 M2242.1 528.5 L2263.4 537.2 M2282 544.9 L2303.3 553.6 M2321.8 561.3 L2343.1 570 M2361.7 577.7 L2383 586.4 M2401.6 594.1 L2422.8 602.8 M2441.4 610.5 L2450 614"/>
<polyline class="c" stroke="#00ff00" points="298.5,875.9 303.1,879.3 307.8,882.8 312.4,886.3 317,889.7 321.6,893.2 326.2,896.6 330.9,900.1 335.5,903.5 340.1,907 344.8,910.4 349.4,913.9 354,917.3 403.5,967.3 450.4,1003.5 455.4,999.1 460.4,994.6 465.4,990.1 470.3,985.6 475.3,981.1 480.3,976.6 485.3,972.1 490.3,967.5 495.3,962.9 500.3,958.3 505.3,953.7 510.2,949.1 515.2,944.4 520.2,939.7 525.2,935 530.2,930.2 535.2,925.3 540.2,920.4 545.1,915.5 550.1,910.6 555.1,905.9 560.1,901.2 565.1,896.7 570.1,892.3 575.1,888 580.1,883.7 585,879.5 590,875.4 595,871.4 600,867.5 604.8,864.9 609.7,862.4 614.5,859.9 619.4,857.4 624.2,854.9 629.1,852.4 633.9,849.9 638.8,847.4 643.6,844.9 648.5,842.4 653.3,840 658.2,837.6 663,835.3 667.9,833 672.7,830.7 677.6,828.5 682.4,826.2 687.3,824 692.1,821.9 697,819.7 701.8,817.6 706.7,815.5 711.5,813.5 716.3,812 721.1,810.5 725.8,809 730.6,807.5 735.4,806 740.2,804.5 744.9,802.9 749.7,801.4 754.5,799.8 759.3,798.3 764.1,796.7 768.8,795.2 773.6,793.6 778.4,792.1 783.2,790.5 787.9,788.9 792.7,787.2 797.5,785.6 802.5,784.4 807.4,783.2 812.4,782.1 817.4,780.9 822.3,779.7 827.3,778.6 832.3,777.4 837.2,776.2 842.2,775.1 847.2,773.9 852.1,772.8 857.1,771.7 862.1,770.5 867,769.4 872,768.3 877,767.2 881.9,766.1 886.9,764.9 891.9,763.9 896.8,762.8 901.8,761.7 906.8,760.6 911.7,759.6 916.7,758.5 921.7,757.6 926.6,756.6 931.6,755.7 936.6,754.8 941.5,754 946.5,753.1 951.5,752.3 956.4,751.5 961.4,750.7 966.4,749.9 971.3,749.2 976.3,748.5 981.3,747.8 986.2,747.1 991.2,746.5 996.2,746 1001.1,745.5 1006.1,745 1011.1,744.6 1016,744.1 1021,743.6 1026,743.2 1030.9,742.8 1035.9,742.4 1040.9,742 1045.8,741.6 1050.8,741.3 1055.8,741 1060.7,740.8 1065.7,740.5 1070.7,740.3 1075.6,740.1 1080.6,739.9 1085.6,739.7 1090.5,739.5 1095.5,739.3 1100.5,739.1 1105.4,738.9 1110.4,738.7 1115.4,738.5 1120.3,738.4 1125.3,738.3 1130.3,738.2 1135.2,738.1 1140.2,738 1145.2,738 1150.1,738 1155.1,738 1160.1,738 1165,738.1 1170,738.2 1175,738.2 1179.9,738.3 1184.9,738.4 1189.9,738.6 1194.8,738.7 1199.8,738.8 1204.8,739 1209.7,739.1 1214.7,739.3 1219.7,739.4 1224.6,739.6 1229.6,739.8 1234.6,740 1239.5,740.2 1244.5,740.4 1249.5,740.6 1254.4,740.8 1259.4,741 1264.4,741.2 1269.3,741.5 1274.3,741.7 1279.3,742 1284.2,742.2 1289.2,742.5 1294.2,742.8 1299.1,743.1 1304.1,743.4 1309.1,743.7 1314,744 1319,744.3 1324,744.6 1328.9,744.9 1333.9,745.2 1338.9,745.5 1343.8,745.8 1348.8,746 1353.8,746.3 1358.7,746.6 1363.7,746.9 1368.7,747.2 1373.6,747.5 1378.6,747.8 1383.6,748.1 1388.5,748.4 1393.5,748.7 1398.5,749 1403.4,749.4 1408.4,749.7 1413.4,750 1418.3,750.3 1423.3,750.6 1428.3,750.9 1433.2,751.2 1438.2,751.6 1443.2,751.9 1448.1,752.2 1453.1,752.5 1458.1,752.8 1463,753.2 1468,753.5 1473,754.1 1478,754.8 1483,755.4 1488,756.1 1493,756.8 1498,757.4 1503,758.1 1508,758.8 1513,759.5 1518,760.2 1523,761 1528,761.7 1533,762.4 1538,763.2 1543,763.9 1548,764.7 1553,765.4 1558,766.2 1563,767 1568,767.7 1573,768.5 1578,769.3 1583,770.1 1588,770.9 1593,771.7 1598,772.6 1603,773.4 1608,774.3 1613,775.2 1618,776.1 1623,777 1628,777.9 1633,778.8 1638,779.8 1703,796 1771.8,819.8 1776.5,821.8 1781.3,823.8 1786.1,825.9 1790.8,828 1795.6,830.1 1800.4,832.2 1805.2,834.4 1809.9,836.5 1814.7,838.8 1819.5,841 1824.3,843.2 1829,845.5 1833.8,847.7 1838.6,850 1843.4,852.4 1848.1,854.7 1852.9,857.2 1857.7,859.6 1862.5,862.1 1867.2,864.7 1872,867.2 1909.5,891 1942,928.5 2000,980 2100,900 2450,780"/>
</g>
<text class="tk" transform="translate(387.4,1101.5) scale(1,1.045)">1020</text>
<text class="tk" transform="translate(589.1,1101.5) scale(1,1.045)">1040</text>
<text class="tk" transform="translate(790.9,1101.5) scale(1,1.045)">1060</text>
<text class="tk" transform="translate(992.6,1101.5) scale(1,1.045)">1080</text>
<text class="tk" transform="translate(1194.4,1101.5) scale(1,1.045)">1100</text>
<text class="tk" transform="translate(1396.2,1101.5) scale(1,1.045)">1120</text>
<text class="tk" transform="translate(1597.9,1101.5) scale(1,1.045)">1140</text>
<text class="tk" transform="translate(1799.7,1101.5) scale(1,1.045)">1160</text>
<text class="tk" transform="translate(2001.4,1101.5) scale(1,1.045)">1180</text>
<text class="tk" transform="translate(2203.2,1101.5) scale(1,1.045)">1200</text>
<text class="tk" transform="translate(207,195.5) scale(1,1.045)">50</text>
<text class="tk" transform="translate(207,327) scale(1,1.045)">40</text>
<text class="tk" transform="translate(207,458.5) scale(1,1.045)">30</text>
<text class="tk" transform="translate(207,590) scale(1,1.045)">20</text>
<text class="tk" transform="translate(207,721.5) scale(1,1.045)">10</text>
<text class="tk" transform="translate(241.5,853) scale(1,1.045)">0</text>
<text class="tk" transform="translate(185,984.5) scale(1,1.045)">-10</text>
<text class="lb" transform="translate(1126.4,1200.9) scale(1,1.045)">Frequency (Hz)</text>
<text class="lb" transform="translate(133,600.5) rotate(-90) scale(1,1.045)">dB</text>
<g stroke="#000" stroke-width="3.9" fill="#000">
<line x1="459" y1="389.5" x2="453.8" y2="970.9"/>
<polygon stroke="none" points="452.4,1000.8 436.8,951.6 453.8,964.9 469.8,956.3"/>
<line x1="567" y1="162.5" x2="569.5" y2="909.1"/>
<polygon stroke="none" points="568.1,939 552.5,889.8 569.5,903.1 585.5,894.5"/>
<line x1="839" y1="323" x2="833.8" y2="785.2"/>
<polygon stroke="none" points="832.4,815.1 816.8,765.9 833.8,779.2 849.8,770.6"/>
<line x1="1803.5" y1="247.5" x2="1797.8" y2="815.2"/>
<polygon stroke="none" points="1796.4,845.1 1780.8,795.9 1797.8,809.2 1813.8,800.6"/>
</g>
<rect x="1943.8" y="387.2" width="493" height="630.4" fill="#fff" stroke="#222222" stroke-width="3.6"/>
<line x1="1965" y1="431.8" x2="2077" y2="431.8" stroke="#ff0000" stroke-width="8" stroke-dasharray="22 21.1"/>
<text class="lg" transform="translate(2083.3,434.9) scale(1,1.045)">CP - Att (f.s)</text>
<line x1="1961" y1="509.1" x2="2077" y2="509.1" stroke="#ff0000" stroke-width="8"/>
<text class="lg" transform="translate(2083.3,512.2) scale(1,1.045)">CP - IL (&#39;YY&#39;)</text>
<line x1="1965" y1="586.4" x2="2077" y2="586.4" stroke="#0000ff" stroke-width="8" stroke-dasharray="22 21.1"/>
<text class="lg" transform="translate(2083.3,589.6) scale(1,1.045)">CB - Att (f.s)</text>
<line x1="1961" y1="663.6" x2="2077" y2="663.6" stroke="#0000ff" stroke-width="8"/>
<text class="lg" transform="translate(2083.3,666.9) scale(1,1.045)">CB - IL(&#39;YY&#39;)</text>
<line x1="1965" y1="741" x2="2077" y2="741" stroke="#000000" stroke-width="8" stroke-dasharray="22 21.1"/>
<text class="lg" transform="translate(2083.3,744.2) scale(1,1.045)">AP - Att (f.s)</text>
<line x1="1961" y1="818.2" x2="2077" y2="818.2" stroke="#000000" stroke-width="8"/>
<text class="lg" transform="translate(2083.3,821.5) scale(1,1.045)">AP - IL(&#39;YY&#39;)</text>
<line x1="1965" y1="895.5" x2="2077" y2="895.5" stroke="#00ff00" stroke-width="8" stroke-dasharray="22 21.1"/>
<text class="lg" transform="translate(2083.3,898.8) scale(1,1.045)">AB - Att (f.s)</text>
<line x1="1961" y1="972.9" x2="2077" y2="972.9" stroke="#00ff00" stroke-width="8"/>
<text class="lg" transform="translate(2083.3,976.1) scale(1,1.045)">AB - IL(&#39;YY&#39;)</text>
</svg></body></html>
